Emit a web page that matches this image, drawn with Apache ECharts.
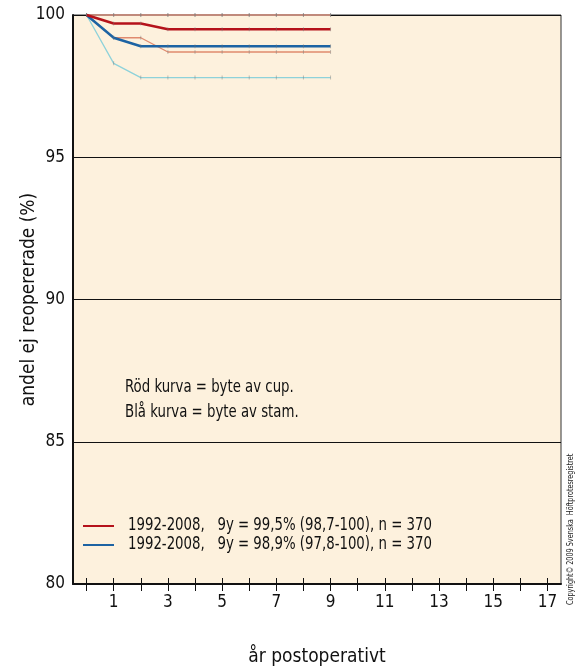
<!DOCTYPE html>
<html>
<head>
<meta charset="utf-8">
<script src="https://cdn.jsdelivr.net/npm/echarts@6/dist/echarts.min.js"></script>
<style>
  html, body { margin: 0; padding: 0; background: #fff; }
  #chart { width: 582px; height: 670px; }
</style>
</head>
<body>
<div id="chart"></div>
<script>
// Years after the primary operation
const years = [0, 1, 2, 3, 4, 5, 6, 7, 8, 9];
// Survival without cup revision (%) with confidence bounds
const cupSurvival = [100, 99.7, 99.7, 99.5, 99.5, 99.5, 99.5, 99.5, 99.5, 99.5];
const cupLower    = [100, 99.2, 99.2, 98.7, 98.7, 98.7, 98.7, 98.7, 98.7, 98.7];
const cupUpper    = [100, 100, 100, 100, 100, 100, 100, 100, 100, 100];
// Survival without stem revision (%) with confidence bounds
const stemSurvival = [100, 99.2, 98.9, 98.9, 98.9, 98.9, 98.9, 98.9, 98.9, 98.9];
const stemLower    = [100, 98.3, 97.8, 97.8, 97.8, 97.8, 97.8, 97.8, 97.8, 97.8];
const stemUpper    = [100, 100, 100, 100, 100, 100, 100, 100, 100, 100];

const tickYears  = [0, 1, 2, 3, 4, 5, 6, 7, 8, 9, 10, 11, 12, 13, 14, 15, 16, 17];
const labelYears = [1, 3, 5, 7, 9, 11, 13, 15, 17];
const yTicks = [80, 85, 90, 95, 100];

const cupLabel  = '1992-2008,   9y = 99,5% (98,7-100), n = 370';
const stemLabel = '1992-2008,   9y = 98,9% (97,8-100), n = 370';

const RED = '#b5121b';
const BLUE = '#1d63a3';
const FONT = "'Liberation Sans Narrow', 'DejaVu Sans Condensed', sans-serif";
const NARROW = 0.87;

function pairs(vals) { return years.map((y, i) => [y, vals[i]]); }

function curve(name, vals, color, width, z) {
  return {
    name: name,
    type: 'line',
    data: pairs(vals),
    symbol: 'rect',
    symbolSize: [1, 4],
    itemStyle: { color: 'rgba(120,120,120,0.45)' },
    lineStyle: { color: color, width: width },
    color: color,
    z: z,
    animation: false
  };
}

// key line + caption for each survival curve
function keyEntry(y, color, text) {
  return {
    type: 'group',
    children: [
      { type: 'line', shape: { x1: 83, y1: y, x2: 114, y2: y }, style: { stroke: color, lineWidth: 2 } },
      { type: 'text', x: 128, y: y, scaleX: NARROW,
        style: { text: text, font: '17px ' + FONT, fill: '#111', verticalAlign: 'middle' } }
    ]
  };
}

const chart = echarts.init(document.getElementById('chart'));
chart.setOption({
  backgroundColor: '#ffffff',
  textStyle: { fontFamily: FONT },
  grid: {
    left: 73, right: 21, top: 15, bottom: 86,
    containLabel: false,
    outerBoundsMode: 'none',
    show: true,
    backgroundColor: '#fdf1dd',
    borderColor: '#333',
    borderWidth: 1
  },
  xAxis: [
    {
      type: 'value',
      min: -0.5,
      max: 17.5,
      position: 'bottom',
      axisLine: { show: true, onZero: false, lineStyle: { color: '#111', width: 2 } },
      axisTick: { show: true, inside: false, length: 7, customValues: tickYears, lineStyle: { color: '#111', width: 1 } },
      axisLabel: { customValues: labelYears, fontSize: 17, color: '#111', margin: 10, fontFamily: FONT },
      splitLine: { show: false },
      name: 'år postoperativt',
      nameLocation: 'middle',
      nameGap: 64,
      nameMoveOverlap: false,
      nameTextStyle: { fontSize: 19, color: '#111', fontFamily: FONT }
    },
    {
      type: 'value',
      min: -0.5,
      max: 17.5,
      position: 'bottom',
      axisLine: { show: false, onZero: false },
      axisTick: { show: true, inside: true, length: 6, customValues: tickYears, lineStyle: { color: '#111', width: 1 } },
      axisLabel: { show: false },
      splitLine: { show: false }
    }
  ],
  yAxis: {
    type: 'value',
    min: 80,
    max: 100,
    interval: 5,
    axisLine: { show: true, onZero: false, lineStyle: { color: '#111', width: 2 } },
    axisTick: { show: false },
    axisLabel: { fontSize: 17, color: '#111', margin: 8, fontFamily: FONT, customValues: yTicks },
    splitLine: { show: true, lineStyle: { color: '#111', width: 1 } },
    name: 'andel ej reopererade (%)',
    nameLocation: 'middle',
    nameGap: 34,
    nameMoveOverlap: false,
    nameTextStyle: { fontSize: 19, color: '#111', fontFamily: FONT }
  },
  graphic: [
    {
      type: 'text',
      x: 125, y: 388, scaleX: NARROW,
      style: { text: 'Röd kurva = byte av cup.', font: '17px ' + FONT, fill: '#111', verticalAlign: 'middle' }
    },
    {
      type: 'text',
      x: 125, y: 413, scaleX: NARROW,
      style: { text: 'Blå kurva = byte av stam.', font: '17px ' + FONT, fill: '#111', verticalAlign: 'middle' }
    },
    keyEntry(526, RED, cupLabel),
    keyEntry(545, BLUE, stemLabel),
    {
      type: 'text',
      x: 571, y: 605,
      rotation: Math.PI / 2,
      scaleX: 0.8,
      style: { text: 'Copyright© 2009 Svenska  Höftprotesregistret', font: '9px ' + FONT, fill: '#222',
        align: 'left', verticalAlign: 'middle' }
    }
  ],
  series: [
    curve('stemUpper', stemUpper, '#93b6bd', 1.5, 3),
    curve('cupUpper', cupUpper, '#c08a7c', 2, 3),
    curve('cupLower', cupLower, '#e08a6e', 1.3, 3),
    curve('stemLower', stemLower, '#8ed2da', 1.3, 3),
    curve(stemLabel, stemSurvival, BLUE, 2.5, 4),
    curve(cupLabel, cupSurvival, RED, 2.5, 5)
  ]
});
</script>
</body>
</html>
